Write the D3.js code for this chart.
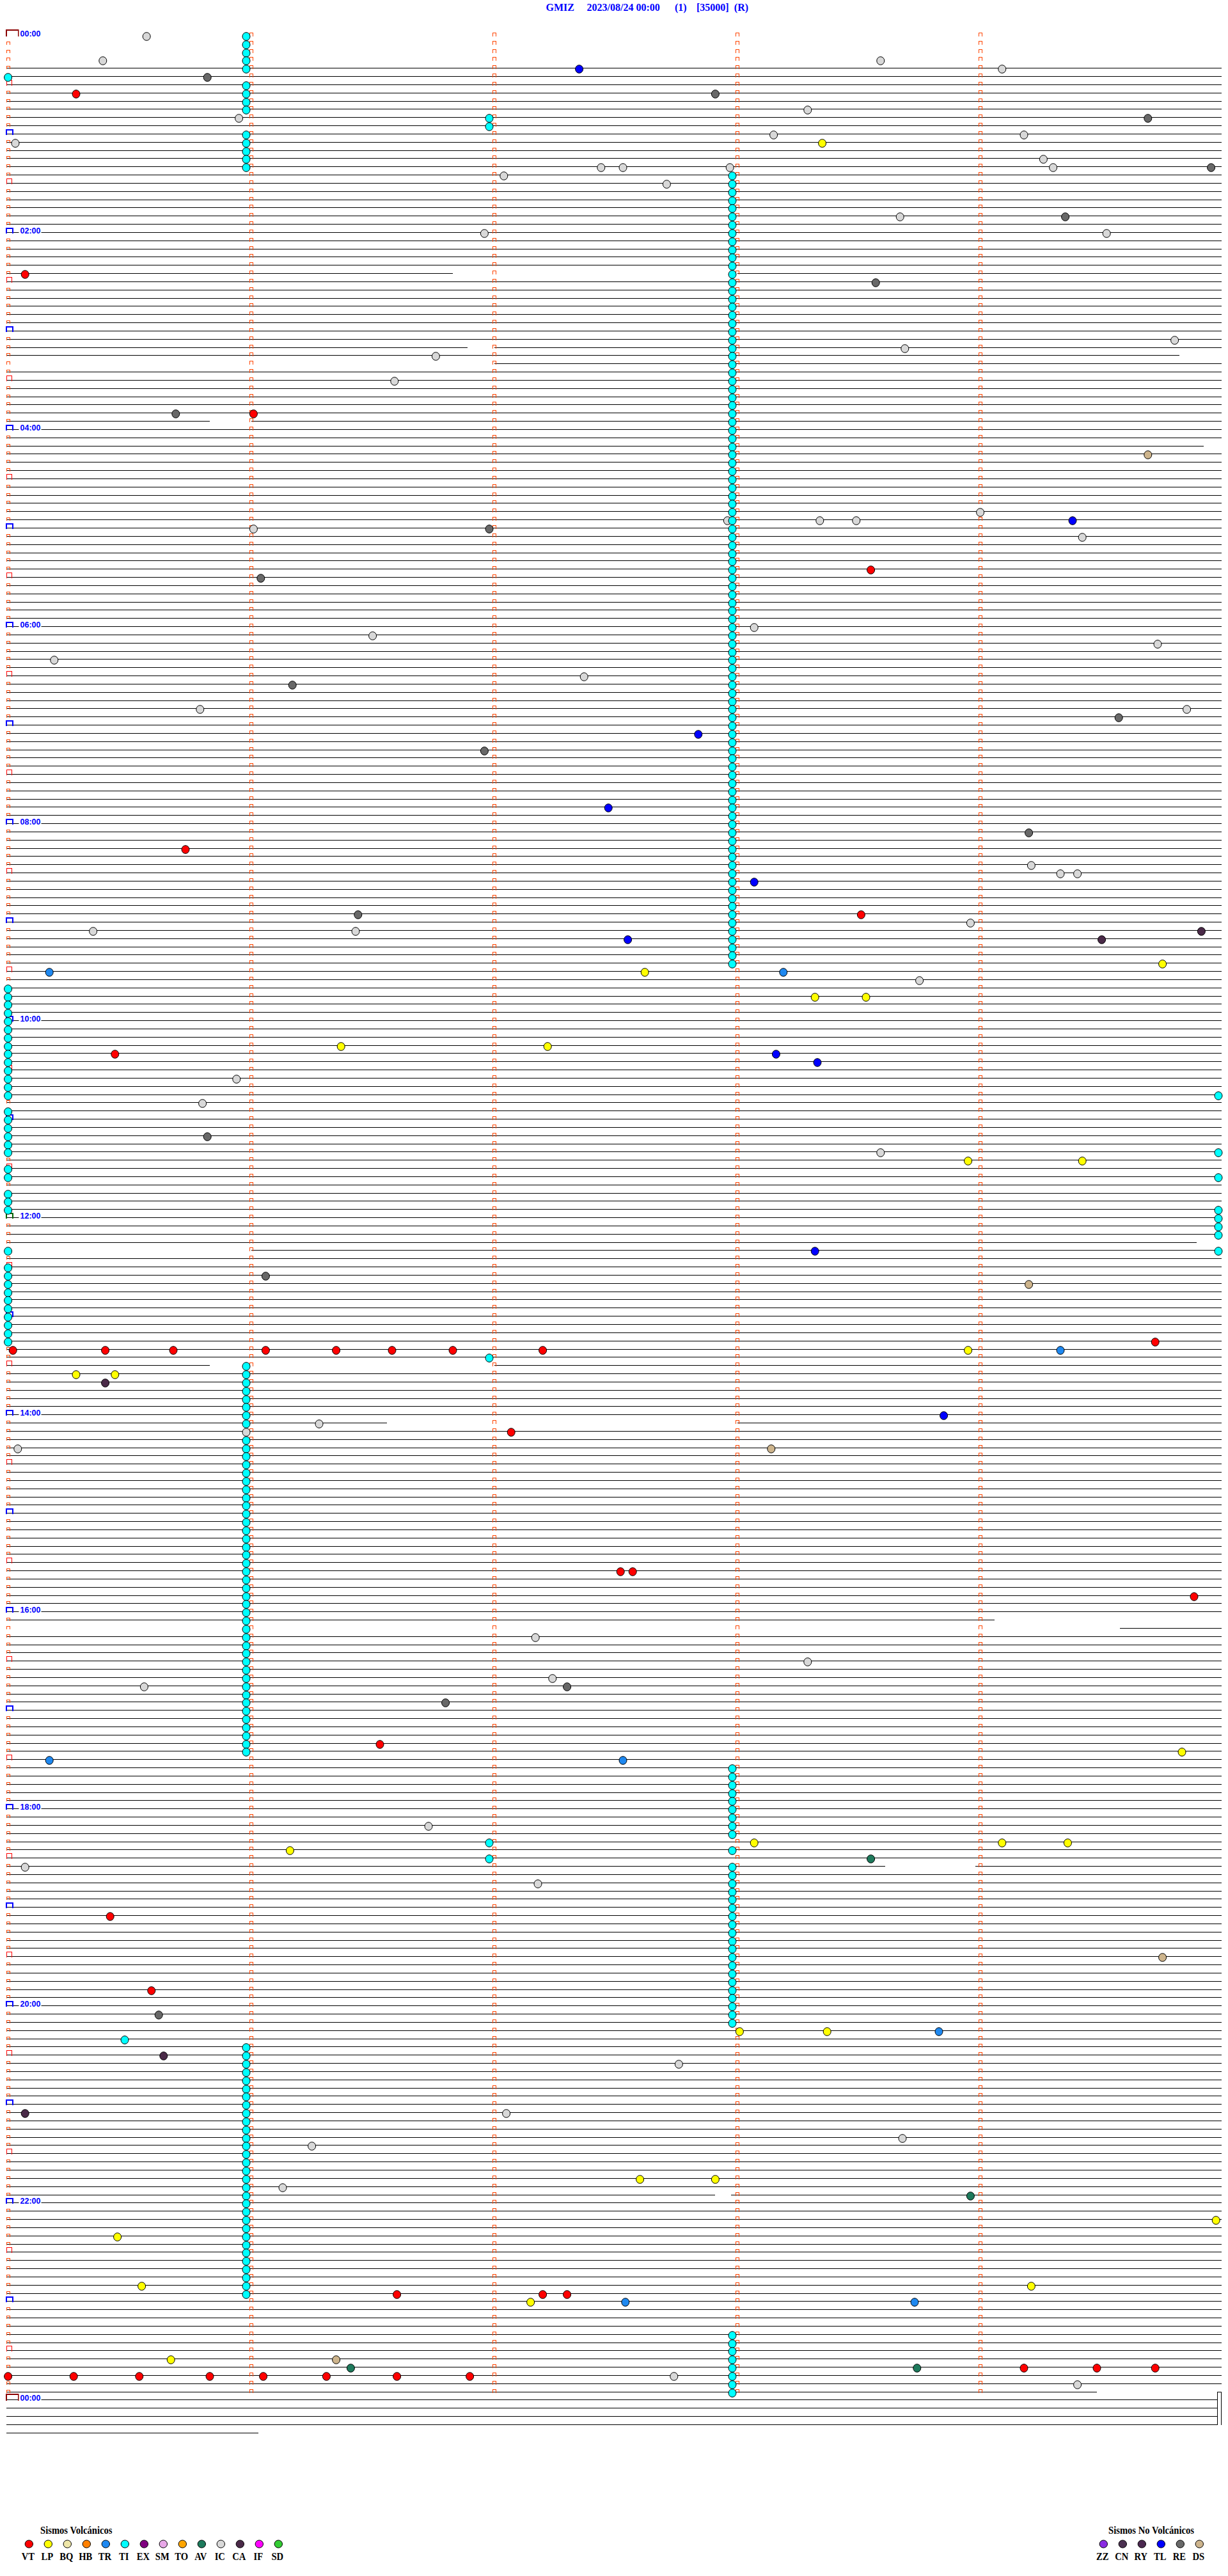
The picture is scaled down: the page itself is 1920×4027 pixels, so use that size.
<!DOCTYPE html>
<html><head><meta charset="utf-8">
<script src="https://cdn.jsdelivr.net/npm/d3@7"></script>
<style>html,body{margin:0;padding:0;background:#fff;}svg{display:block;}</style>
</head><body>
<script>
// ---------- DATA ----------
const titleParts = ["GMIZ", "2023/08/24 00:00", "(1)", "[35000]", "(R)"];
const labelHours = [0, 2, 4, 6, 8, 10, 12, 14, 16, 18, 20, 22, 24];

// event onset times, minutes after 00:00, per event type
const VT = [35.28, 145.07, 231.01, 328.55, 495.73, 538.51, 620.44, 799.72, 800.02, 800.4, 800.68, 801.06, 801.35, 801.58, 801.83, 802.2, 852.07, 937.52, 937.57, 954.88, 1041.53, 1145.42, 1190.59, 1376.6, 1377.2, 1377.3, 1424.18, 1424.48, 1424.72, 1425.0, 1425.27, 1425.54, 1425.83, 1426.05, 1426.31, 1426.6, 1426.9];
const LP = [68.35, 569.75, 572.62, 588.32, 588.53, 616.37, 617.22, 688.95, 689.42, 803.95, 815.28, 815.44, 1049.83, 1103.07, 1104.09, 1104.36, 1106.16, 1218.01, 1218.37, 1307.6, 1307.91, 1334.97, 1340.45, 1370.55, 1374.21, 1382.15, 1415.67];
const TR = [570.17, 573.19, 804.33, 1050.17, 1052.53, 1218.83, 1382.54, 1383.73];
const TL = [22.35, 299.38, 427.84, 472.47, 518.07, 552.55, 623.16, 628.33, 743.32, 843.85];
const RE = [25.82, 37.91, 54.69, 84.95, 114.35, 153.57, 230.69, 301.98, 331.04, 396.17, 419.57, 436.96, 489.2, 536.44, 670.82, 756.06, 1007.3, 1016.8, 1205.62];
const IC = [0.57, 15.39, 18.59, 24.09, 48.29, 50.95, 63.15, 64.18, 65.03, 79.26, 82.44, 82.53, 82.97, 84.3, 87.04, 92.71, 113.67, 121.96, 124.52, 189.8, 193.69, 196.76, 211.59, 294.0, 297.96, 298.34, 298.49, 301.01, 309.42, 363.07, 366.5, 374.73, 380.19, 392.37, 410.79, 414.85, 509.21, 514.33, 514.4, 543.96, 545.35, 546.43, 578.75, 635.94, 650.8, 683.59, 846.28, 850.98, 860.04, 977.17, 993.29, 1002.24, 1005.56, 1091.73, 1115.07, 1127.18, 1237.76, 1267.05, 1283.68, 1286.25, 1311.13, 1427.74, 1434.4];
const DS = [259.69, 764.2, 863.14, 1174.75, 1416.35];
const AV = [1113.55, 1318.96, 1421.41, 1423.74];
const CA = [549.91, 554.5, 820.4, 1230.64, 1265.07];
const TI = [0.98, 5.98, 10.98, 15.98, 20.98, 25.0, 30.98, 35.98, 40.98, 45.98, 51.98, 56.98, 60.98, 65.98, 70.98, 75.98, 80.98,
  87.98, 92.98, 97.98, 102.98, 107.98, 112.98, 117.98, 122.98, 127.98, 132.98, 137.98, 142.98, 147.98, 152.98, 157.98, 162.98, 167.98, 172.98, 177.98, 182.98, 187.98, 192.98, 197.98, 202.98,
  207.98, 212.98, 217.98, 222.98, 227.98, 232.98, 237.98, 242.98, 247.98, 252.98, 257.98, 262.98, 267.98, 272.98, 277.98, 282.98, 287.98, 292.98, 297.98, 302.98, 307.98, 312.98, 317.98, 322.98,
  327.98, 332.98, 337.98, 342.98, 347.98, 352.98, 357.98, 362.98, 367.98, 372.98, 377.98, 382.98, 387.98, 392.98, 397.98, 402.98, 407.98, 412.98, 417.98, 422.98, 427.98, 432.98, 437.98, 442.98,
  447.98, 452.98, 457.98, 462.98, 467.98, 472.98, 477.98, 482.98, 487.98, 492.98, 497.98, 502.98, 507.98, 512.98, 517.98, 522.98, 527.98, 532.98, 537.98, 542.98, 547.98, 552.98, 557.98, 562.98, 567.98,
  580.0, 585.0, 590.0, 595.0, 600.0, 605.0, 610.0, 615.0, 620.0, 625.0, 630.0, 635.0, 640.0, 645.0, 649.98, 655.0, 660.0, 665.0, 670.0, 675.0, 680.0, 684.98, 690.0, 695.0, 699.98, 705.0, 710.0, 715.0,
  719.98, 724.98, 729.98, 734.98, 740.0, 744.98, 750.0, 755.0, 760.0, 765.0, 770.0, 775.0, 780.0, 785.0, 790.0, 795.0,
  806.98, 810.98, 815.98, 820.98, 825.98, 830.98, 835.98, 840.98, 845.98, 855.98, 860.98, 865.98, 870.98, 875.98, 880.98, 885.98, 890.98, 895.98, 900.98, 905.98, 910.98, 915.98, 920.98, 925.98,
  930.98, 935.98, 940.98, 945.98, 950.98, 955.98, 960.98, 965.98, 970.98, 975.98, 980.98, 985.98, 990.98, 995.98, 1000.98, 1005.98, 1010.98, 1015.98, 1020.98, 1025.98, 1030.98, 1035.98, 1040.98, 1045.98,
  1057.98, 1062.98, 1067.98, 1072.98, 1077.98, 1082.98, 1087.98, 1092.98, 1097.98, 1101.98, 1107.98, 1111.98,
  1117.98, 1122.98, 1127.98, 1132.98, 1137.98, 1142.98, 1147.98, 1152.98, 1157.98, 1162.98, 1167.98, 1172.98, 1177.98, 1182.98, 1187.98, 1192.98, 1197.98, 1202.98, 1207.98, 1212.98,
  1220.48, 1225.98, 1230.98, 1235.98, 1240.98, 1245.98, 1250.98, 1255.98, 1260.98, 1265.98, 1270.98, 1275.98, 1280.98, 1285.98, 1290.98, 1295.98, 1300.98, 1305.98, 1310.98, 1315.98, 1320.98,
  1325.98, 1330.98, 1335.98, 1340.98, 1345.98, 1350.98, 1355.98, 1360.98, 1365.98, 1370.98, 1375.98,
  1402.98, 1407.98, 1412.98, 1417.98, 1422.98, 1427.98, 1432.98, 1437.98];

// trace gaps: [row, fromMinute, toMinute] (minute within the 5-minute row)
const traceGaps = [[0, -1, 6], [1, -1, 6], [2, -1, 6], [3, -1, 6], [29, 1.83, 3.0], [38, 1.89, 2.0], [39, 4.82, 6], [40, -1, 2.0], [47, 0.83, 1.0], [50, 4.92, 6],
  [147, 4.89, 6], [148, -1, 1.0], [162, 0.83, 2.0], [169, 1.56, 3.0], [193, 4.06, 6], [194, -1, 4.575], [223, 3.61, 3.98], [263, 2.91, 2.975], [287, 4.48, 6],
  [288, 4.975, 6], [289, 4.975, 6], [290, 4.975, 6], [291, 4.975, 6], [292, 1.03, 6]];

const volcanicTypes = ["VT", "LP", "BQ", "HB", "TR", "TI", "EX", "SM", "TO", "AV", "IC", "CA", "IF", "SD"];
const nonVolcanicTypes = ["ZZ", "CN", "RY", "TL", "RE", "DS"];
const typeColors = {VT: "#FF0000", LP: "#FFFF00", BQ: "#EEE6A8", HB: "#FF8000", TR: "#1E88F0", TI: "#00FFFF", EX: "#800080",
  SM: "#E8A8E8", TO: "#FFA500", AV: "#1E7A5C", IC: "#D8D8D8", CA: "#4A2A48", IF: "#FF00FF", SD: "#33CC33",
  ZZ: "#8A2BE2", CN: "#4B3050", RY: "#4B2850", TL: "#0000FF", RE: "#686868", DS: "#CDB48C"};

// ---------- LAYOUT ----------
const W = 1920, H = 4027;
const ROW_MIN = 5, DAY_ROWS = 288, N_ROWS = 293;
const x = d3.scaleLinear().domain([0, ROW_MIN]).range([12.6, 1912.6]);
const y = d3.scaleLinear().domain([0, DAY_ROWS]).range([54.9, 54.9 + DAY_ROWS * 12.835]);
const Y = r => Math.round(y(r)) + 0.5;
const LX0 = 10, LX1 = 1910;

const svg = d3.select("body").append("svg").attr("width", W).attr("height", H)
  .style("font-family", "'Liberation Serif','Times New Roman',serif");
svg.append("rect").attr("width", W).attr("height", H).attr("fill", "#fff");

// title
const titleX = [853.5, 917.6, 1055, 1089, 1147.8];
svg.append("g").selectAll("text").data(titleParts).join("text")
  .attr("x", (d, i) => titleX[i]).attr("y", 17)
  .attr("fill", "#0000FF").attr("font-size", 16).attr("font-weight", "bold").text(d => d);

// trace lines
const rows = d3.range(N_ROWS);
const segs = [];
rows.forEach(r => {
  let parts = [[LX0, LX1]];
  traceGaps.filter(g => g[0] === r).forEach(g => {
    const a = Math.max(LX0 - 5, x(g[1])), b = Math.min(LX1 + 5, x(g[2]));
    const gx0 = g[1] < 0 ? -100 : a, gx1 = g[2] > 5 ? 9999 : b;
    const np = [];
    parts.forEach(p => {
      if (gx1 <= p[0] || gx0 >= p[1]) { np.push(p); return; }
      if (gx0 > p[0]) np.push([p[0], gx0]);
      if (gx1 < p[1]) np.push([gx1, p[1]]);
    });
    parts = np;
  });
  parts.forEach(p => segs.push({r, x0: p[0], x1: p[1]}));
});
svg.append("g").attr("stroke", "#000").attr("stroke-width", 1).attr("shape-rendering", "crispEdges")
  .selectAll("line").data(segs).join("line")
  .attr("x1", d => d.x0).attr("x2", d => d.x1).attr("y1", d => Y(d.r)).attr("y2", d => Y(d.r));

// minute markers (dashed verticals made of small brackets)
const minuteCols = [1, 2, 3, 4];
const dayRows = d3.range(DAY_ROWS);
const colMarks = [];
dayRows.forEach(r => minuteCols.forEach(m => colMarks.push({r, m})));
const bracket = (x0, x1, yt, yb) => `M${x0},${yb}V${yt}H${x1}V${yb}`;
svg.append("g").attr("fill", "none").attr("stroke", "#FF4500").attr("stroke-width", 1).attr("shape-rendering", "crispEdges")
  .selectAll("path").data(colMarks).join("path")
  .attr("d", d => { const cx = Math.round(x(d.m)); const yy = Y(d.r); return bracket(cx - 2.5, cx + 2.5, yy - 4, yy + 1.5); });

// left row markers
const markRows = d3.range(DAY_ROWS + 1);
const gL = svg.append("g").attr("fill", "none").attr("shape-rendering", "crispEdges");
markRows.forEach(r => {
  const yy = Y(r);
  if (r % DAY_ROWS === 0) {
    gL.append("path").attr("d", bracket(9.5, 29, yy - 9, yy + 1.5)).attr("stroke", "#8B0000").attr("stroke-width", 2);
  } else if (r % 12 === 0) {
    gL.append("path").attr("d", bracket(9.5, 19.5, yy - 6.5, yy + 1.5)).attr("stroke", r === 144 ? "#006400" : "#0000FF").attr("stroke-width", 2);
  } else if (r % 6 === 0) {
    gL.append("path").attr("d", bracket(10.5, 18.5, yy - 7, yy + 1.5)).attr("stroke", "#FF0000").attr("stroke-width", 1.3);
  } else {
    gL.append("path").attr("d", bracket(10.5, 15.5, yy - 3.5, yy + 1.5)).attr("stroke", "#FF4500").attr("stroke-width", 1);
  }
});

// hour labels
const gLab = svg.append("g");
labelHours.forEach(h => {
  const r = h * 12, yy = Y(r);
  gLab.append("rect").attr("x", 29.5).attr("y", yy - 11).attr("width", 35).attr("height", 13).attr("fill", "#fff");
  gLab.append("text").attr("x", 31.5).attr("y", yy + 1.5)
    .attr("fill", "#0000FF").attr("font-family", "'Liberation Sans',Arial,sans-serif").attr("font-weight", "bold").attr("font-size", 13)
    .attr("textLength", 32).attr("lengthAdjust", "spacingAndGlyphs")
    .text(String(h % 24).padStart(2, "0") + ":00");
});

// end-of-record bracket at the right
svg.append("path").attr("d", `M1903.5,${Y(291)}V${Y(287)}H1909.5V${Y(291)}`)
  .attr("fill", "none").attr("stroke", "#000").attr("stroke-width", 1).attr("shape-rendering", "crispEdges");

// events
const typeArrays = {VT, LP, TR, TL, RE, IC, DS, AV, CA, TI};
const events = [];
Object.keys(typeArrays).forEach(k => typeArrays[k].forEach(t => events.push({t, type: k})));
events.sort((a, b) => a.t - b.t);
svg.append("g").selectAll("ellipse").data(events).join("ellipse")
  .attr("cx", d => { const r = Math.floor(d.t / ROW_MIN); return x(d.t - r * ROW_MIN); })
  .attr("cy", d => Y(Math.floor(d.t / ROW_MIN)) + 1.5)
  .attr("rx", 6).attr("ry", 6.3)
  .attr("fill", d => typeColors[d.type]).attr("stroke", "#000").attr("stroke-width", 1);

// legends
function legend(title, types, titleX, cx0) {
  const g = svg.append("g");
  const tt = g.append("text").attr("x", titleX).attr("y", 3961).attr("font-size", 17).attr("font-weight", "bold").attr("fill", "#000").text(title);
  tt.attr("textLength", tt.node().getComputedTextLength() * 0.86).attr("lengthAdjust", "spacingAndGlyphs");
  types.forEach((k, i) => {
    const cx = cx0 + 30 * i;
    g.append("ellipse").attr("cx", cx).attr("cy", 3977).attr("rx", 6.2).attr("ry", 6)
      .attr("fill", typeColors[k]).attr("stroke", "#000").attr("stroke-width", 1);
    const t = g.append("text").attr("x", cx - 1.5).attr("y", 4001.5).attr("text-anchor", "middle")
      .attr("font-size", 17).attr("font-weight", "bold").attr("fill", "#000").text(k);
    t.attr("textLength", t.node().getComputedTextLength() * 0.86).attr("lengthAdjust", "spacingAndGlyphs");
  });
}
legend("Sismos Volcánicos", volcanicTypes, 63, 45.3);
legend("Sismos No Volcánicos", nonVolcanicTypes, 1733, 1725.3);
</script>
</body></html>
